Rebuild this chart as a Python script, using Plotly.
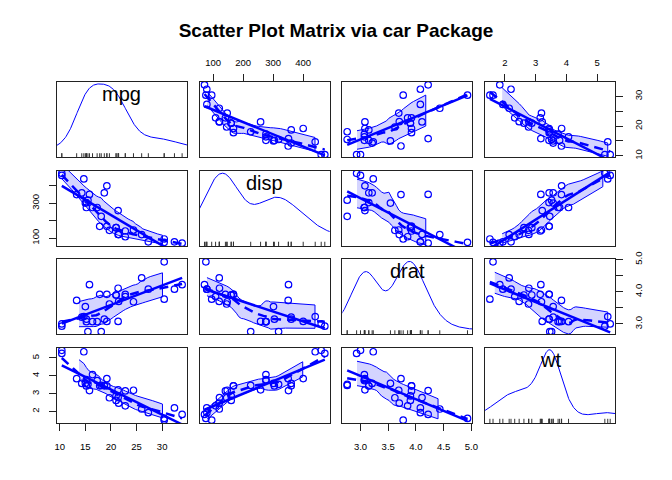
import numpy as np
import plotly.graph_objects as go

# mtcars columns used in the matrix
mpg = [21.0, 21.0, 22.8, 21.4, 18.7, 18.1, 14.3, 24.4, 22.8, 19.2, 17.8, 16.4, 17.3, 15.2, 10.4, 10.4,
       14.7, 32.4, 30.4, 33.9, 21.5, 15.5, 15.2, 13.3, 19.2, 27.3, 26.0, 30.4, 15.8, 19.7, 15.0, 21.4]
disp = [160, 160, 108, 258, 360, 225, 360, 146.7, 140.8, 167.6, 167.6, 275.8, 275.8, 275.8, 472, 460,
        440, 78.7, 75.7, 71.1, 120.1, 318, 304, 350, 400, 79, 120.3, 95.1, 351, 145, 301, 121]
drat = [3.90, 3.90, 3.85, 3.08, 3.15, 2.76, 3.21, 3.69, 3.92, 3.92, 3.92, 3.07, 3.07, 3.07, 2.93, 3.00,
        3.23, 4.08, 4.93, 4.22, 3.70, 2.76, 3.15, 3.73, 3.08, 4.08, 4.43, 3.77, 4.22, 3.62, 3.54, 4.11]
wt = [2.620, 2.875, 2.320, 3.215, 3.440, 3.460, 3.570, 3.190, 3.150, 3.440, 3.440, 4.070, 3.730, 3.780,
      5.250, 5.424, 5.345, 2.200, 1.615, 1.835, 2.465, 3.520, 3.435, 3.840, 3.845, 1.935, 2.140, 1.513,
      3.170, 2.770, 3.570, 2.780]

var_names = ["mpg", "disp", "drat", "wt"]

mpg_ticks = [10, 15, 20, 25, 30]
disp_ticks = [100, 200, 300, 400]
drat_ticks = [3.0, 3.5, 4.0, 4.5, 5.0]
wt_ticks = [2, 3, 4, 5]

# labels on the outer axes (R drops some on the vertical ones)
x_labels = {"mpg": ["10", "15", "20", "25", "30"], "disp": ["100", "200", "300", "400"],
            "drat": ["3.0", "3.5", "4.0", "4.5", "5.0"], "wt": ["2", "3", "4", "5"]}
y_labels = {"mpg": ["10", "", "20", "", "30"], "disp": ["100", "", "300", ""],
            "drat": ["3.0", "", "4.0", "", "5.0"], "wt": ["2", "3", "4", "5"]}

data = {"mpg": np.array(mpg, float), "disp": np.array(disp, float),
        "drat": np.array(drat, float), "wt": np.array(wt, float)}
ticks = {"mpg": mpg_ticks, "disp": disp_ticks, "drat": drat_ticks, "wt": wt_ticks}

BLUE = "#0000FF"
FONT = "Liberation Sans, Arial, Helvetica, sans-serif"


def local_fit(x, y, rw, x0, span, degree):
    n = len(x)
    q = max(int(np.floor(n * span)), 1)
    d = np.abs(x - x0)
    h = np.sort(d)[q - 1] * 1.0001
    if h <= 0:
        h = 1e-9
    u = d / h
    w = np.where(u < 1, (1 - u ** 3) ** 3, 0.0) * rw
    if degree == 0:
        return np.sum(w * y) / np.sum(w)
    sw = np.sqrt(w)
    X = np.column_stack([np.ones(n), x - x0])
    beta = np.linalg.lstsq(X * sw[:, None], y * sw, rcond=None)[0]
    return beta[0]


def loess(x, y, xe, span=2 / 3, degree=1, iterations=4):
    rw = np.ones(len(x))
    res = None
    for it in range(iterations):
        fitted = np.array([local_fit(x, y, rw, xi, span, degree) for xi in x])
        res = y - fitted
        if it < iterations - 1:
            s = np.median(np.abs(res))
            if s <= 0:
                break
            u = res / (6 * s)
            rw = np.where(np.abs(u) < 1, (1 - u ** 2) ** 2, 0.0)
    pred = np.array([local_fit(x, y, rw, x0, span, degree)
                     if x.min() <= x0 <= x.max() else np.nan for x0 in xe])
    return pred, res


def smoother(x, y):
    xe = np.linspace(x.min(), x.max(), 50)
    fit, res = loess(x, y, xe)
    pos = res > 0
    up, _ = loess(x[pos], res[pos] ** 2, xe, degree=0, iterations=1)
    lo, _ = loess(x[~pos], res[~pos] ** 2, xe, degree=0, iterations=1)
    return xe, fit, fit + np.sqrt(up), fit - np.sqrt(lo)


def bw_nrd0(x):
    hi = np.std(x, ddof=1)
    q75, q25 = np.percentile(x, [75, 25])
    lo = min(hi, (q75 - q25) / 1.34)
    return 0.9 * lo * len(x) ** -0.2


def adaptive_density(x, n=500, cut=3):
    bw = bw_nrd0(x)
    x0 = np.linspace(x.min() - cut * bw, x.max() + cut * bw, n)
    k = lambda z: np.exp(-0.5 * z ** 2) / np.sqrt(2 * np.pi)
    p = sum(k((x0 - xi) / bw) for xi in x) / (len(x) * bw)
    f = np.interp(x, x0, p)
    g = np.exp(np.mean(np.log(f)))
    lam = (f / g) ** -0.5
    p = sum(k((x0 - xi) / (bw * li)) / li for xi, li in zip(x, lam)) / (len(x) * bw)
    return x0, p


def pad_range(v):
    r = v.max() - v.min()
    return [v.min() - 0.04 * r, v.max() + 0.04 * r]


def clamp(a, b):
    return [min(max(a, 0.0), 1.0), min(max(b, 0.0), 1.0)]


pw, ph = 130 / 558.3, 75.3 / 340.4
gx, gy = (1 - 4 * pw) / 3, (1 - 4 * ph) / 3

fig = go.Figure()
annotations = []

for r, yv in enumerate(var_names):
    for c, xv in enumerate(var_names):
        k = r * 4 + c + 1
        sfx = "" if k == 1 else str(k)
        xa, ya = f"x{sfx}", f"y{sfx}"
        x, y = data[xv], data[yv]
        if r == c:
            dx, dy = adaptive_density(x)
            dy = x.min() + dy * (x.max() - x.min()) / (dy.max() - dy.min())
            fig.add_trace(go.Scatter(x=dx, y=dy, mode="lines", line=dict(color=BLUE, width=1),
                                     xaxis=xa, yaxis=ya, hoverinfo="skip"))
            fig.add_trace(go.Scatter(x=x, y=[pad_range(x)[0]] * len(x), mode="markers",
                                     marker=dict(symbol="line-ns-open", size=6, color="#333333",
                                                 line=dict(color="#333333", width=1)),
                                     xaxis=xa, yaxis=ya, hoverinfo="skip"))
            annotations.append(dict(text=xv, x=0.5, y=1, xref=f"{xa} domain", yref=f"{ya} domain",
                                    yanchor="middle", yshift=-12, showarrow=False,
                                    font=dict(size=20, color="black", family=FONT)))
        else:
            xe, fit, upper, lower = smoother(x, y)
            ok = ~np.isnan(upper) & ~np.isnan(lower)
            fig.add_trace(go.Scatter(x=np.concatenate([xe[ok], xe[ok][::-1]]),
                                     y=np.concatenate([upper[ok], lower[ok][::-1]]),
                                     mode="lines", fill="toself", fillcolor="rgba(0,0,255,0.17)",
                                     line=dict(color=BLUE, width=1), xaxis=xa, yaxis=ya,
                                     hoverinfo="skip"))
            fig.add_trace(go.Scatter(x=x, y=y, mode="markers",
                                     marker=dict(symbol="circle-open", size=6.5, color=BLUE,
                                                 line=dict(width=1.2)),
                                     xaxis=xa, yaxis=ya))
            b, a = np.polyfit(x, y, 1)
            xr = np.array([x.min(), x.max()])
            fig.add_trace(go.Scatter(x=xr, y=a + b * xr, mode="lines",
                                     line=dict(color=BLUE, width=2.5), xaxis=xa, yaxis=ya,
                                     hoverinfo="skip"))
            fig.add_trace(go.Scatter(x=xe, y=fit, mode="lines",
                                     line=dict(color=BLUE, width=2.5, dash="9px,6px"),
                                     xaxis=xa, yaxis=ya, hoverinfo="skip"))

        x0 = c * (pw + gx)
        y1 = 1 - r * (ph + gy)
        xaxis = dict(domain=clamp(x0, x0 + pw), anchor=ya, range=pad_range(x), showgrid=False,
                     zeroline=False, showline=True, mirror=True, linecolor="#222222", linewidth=1,
                     showticklabels=False, ticks="")
        yaxis = dict(domain=clamp(y1 - ph, y1), anchor=xa, range=pad_range(y), showgrid=False,
                     zeroline=False, showline=True, mirror=True, linecolor="#222222", linewidth=1,
                     showticklabels=False, ticks="")
        tick_style = dict(ticks="outside", ticklen=7, tickwidth=1, tickcolor="#222222",
                          showticklabels=True, tickfont=dict(size=9.5, color="black", family=FONT))
        if r == 3 and c in (0, 2):
            xaxis.update(tick_style, tickvals=ticks[xv], ticktext=x_labels[xv], side="bottom",
                         ticklabelstandoff=8)
        if r == 0 and c in (1, 3):
            xaxis.update(tick_style, tickvals=ticks[xv], ticktext=x_labels[xv], side="top",
                         ticklabelstandoff=4)
        if c == 0 and r in (1, 3):
            yaxis.update(tick_style, tickvals=ticks[yv], ticktext=y_labels[yv], side="left",
                         tickangle=-90, ticklabelstandoff=6)
        if c == 3 and r in (0, 2):
            yaxis.update(tick_style, tickvals=ticks[yv], ticktext=y_labels[yv], side="right",
                         tickangle=-90, ticklabelstandoff=8)
        fig.layout[f"xaxis{sfx}"] = xaxis
        fig.layout[f"yaxis{sfx}"] = yaxis

fig.update_layout(
    width=672, height=480,
    title=dict(text="<b>Scatter Plot Matrix via car Package</b>", x=0.5, xanchor="center",
               y=1 - 30 / 480, yanchor="middle", font=dict(size=19, color="black", family=FONT)),
    margin=dict(l=57, r=57, t=82, b=57),
    paper_bgcolor="white", plot_bgcolor="white",
    showlegend=False,
    hovermode=False,
    annotations=annotations,
    font=dict(family=FONT, color="black"),
)

fig.write_html("out.html", config={"displayModeBar": False},
               post_script="document.body.style.margin='0px';")
